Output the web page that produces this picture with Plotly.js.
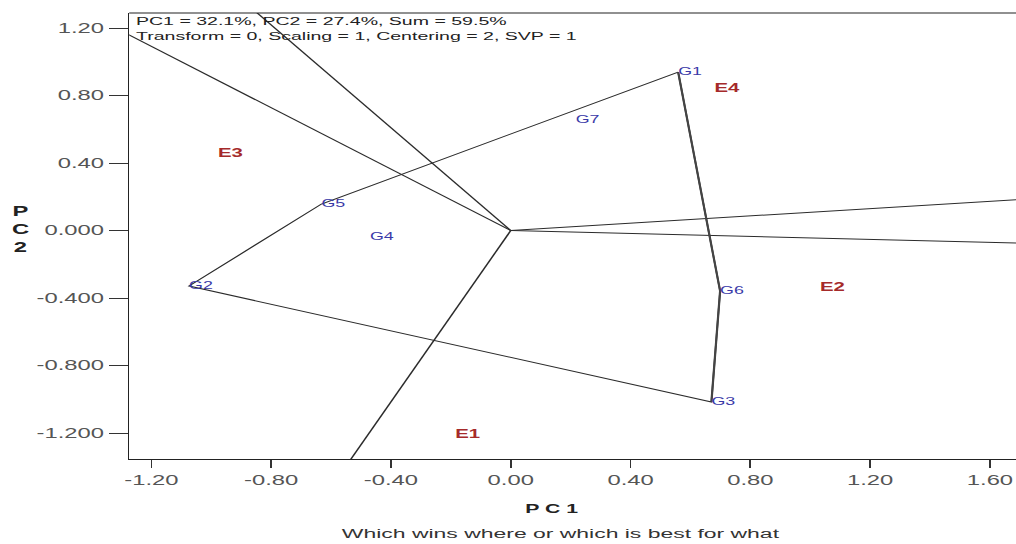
<!DOCTYPE html>
<html>
<head>
<meta charset="utf-8">
<script src="https://cdn.plot.ly/plotly-3.0.1.min.js"></script>
<style>
html,body{margin:0;padding:0;background:#fff;overflow:hidden;}
#wrap{width:1016px;height:544px;overflow:hidden;}
#chart{width:598px;height:544px;transform:scaleX(1.7);transform-origin:0 0;}
</style>
</head>
<body>
<div id="wrap"><div id="chart"></div></div>
<script>
// Genotype scores (PC1, PC2)
const genotypes = ['G1', 'G2', 'G3', 'G4', 'G5', 'G6', 'G7'];
const genoPC1 = [0.559, -1.074, 0.67, -0.47, -0.632, 0.699, 0.217];
const genoPC2 = [0.939, -0.329, -1.016, -0.04, 0.157, -0.358, 0.655];

// Environment scores (PC1, PC2)
const environments = ['E1', 'E2', 'E3', 'E4'];
const envPC1 = [-0.144, 1.074, -0.936, 0.722];
const envPC2 = [-1.213, -0.341, 0.453, 0.838];

// Polygon vertex order
const hullOrder = ['G1', 'G6', 'G3', 'G2', 'G5', 'G1'];

// Tick labels
const xTickVals = [-1.2, -0.8, -0.4, 0, 0.4, 0.8, 1.2, 1.6];
const xTickText = ['-1.20', '-0.80', '-0.40', '0.00', '0.40', '0.80', '1.20', '1.60'];
const yTickVals = [1.2, 0.8, 0.4, 0, -0.4, -0.8, -1.2];
const yTickText = ['1.20', '0.80', '0.40', '0.000', '-0.400', '-0.800', '-1.200'];

const headerLines = ['PC1 = 32.1%, PC2 = 27.4%, Sum = 59.5%', 'Transform = 0, Scaling = 1, Centering = 2, SVP = 1'];
const xTitle = 'P C 1';
const yTitle = 'P<br>C<br>2';
const subTitle = 'Which wins where or which is best for what';

const idx = g => genotypes.indexOf(g);
const hx = hullOrder.map(g => genoPC1[idx(g)]);
const hy = hullOrder.map(g => genoPC2[idx(g)]);

// Rays from origin perpendicular to each polygon side
const rayX = [], rayY = [];
for (let i = 0; i < hullOrder.length - 1; i++) {
  const x1 = hx[i], y1 = hy[i], x2 = hx[i + 1], y2 = hy[i + 1];
  const dx = x2 - x1, dy = y2 - y1;
  const t = -(x1 * dx + y1 * dy) / (dx * dx + dy * dy);
  const fx = x1 + t * dx, fy = y1 + t * dy;
  const len = Math.hypot(fx, fy);
  rayX.push(0, fx / len * 6, null);
  rayY.push(0, fy / len * 6, null);
}

const lineColor = '#2b2b2b';
const traces = [
  { x: rayX, y: rayY, mode: 'lines', line: { color: lineColor, width: 1 }, hoverinfo: 'skip', showlegend: false },
  { x: hx, y: hy, mode: 'lines', line: { color: lineColor, width: 1 }, hoverinfo: 'skip', showlegend: false },
  { x: [hx[0], hx[1], hx[2]], y: [hy[0], hy[1], hy[2]], mode: 'lines', line: { color: '#444', width: 1.3 }, hoverinfo: 'skip', showlegend: false },
  { x: genoPC1, y: genoPC2, mode: 'text', text: genotypes, textposition: 'middle right',
    textfont: { family: 'Liberation Sans, Arial, sans-serif', size: 10.5, color: '#3a3aa8' }, showlegend: false, cliponaxis: false },
  { x: envPC1, y: envPC2, mode: 'text', text: environments.map(e => '<b>' + e + '</b>'), textposition: 'middle center',
    textfont: { family: 'Liberation Sans, Arial, sans-serif', size: 12, color: '#a52a2a' }, showlegend: false }
];

const layout = {
  width: 598, height: 544,
  margin: { l: 76, r: 0, t: 13, b: 85 },
  paper_bgcolor: '#fff', plot_bgcolor: '#fff',
  font: { family: 'Liberation Sans, Arial, sans-serif', color: '#444' },
  xaxis: {
    range: [-1.274, 1.689], tickvals: xTickVals, ticktext: xTickText,
    showgrid: false, zeroline: false, showline: true, linecolor: '#222', linewidth: 1,
    ticks: 'outside', ticklen: 8, tickcolor: '#333', tickfont: { size: 14, color: '#555' }
  },
  yaxis: {
    range: [-1.354, 1.289], tickvals: yTickVals, ticktext: yTickText,
    showgrid: false, zeroline: false, showline: true, linecolor: '#222', linewidth: 1,
    ticks: 'outside', ticklen: 11, tickcolor: '#333', tickfont: { size: 14, color: '#555' }
  },
  shapes: [
    { type: 'line', xref: 'paper', yref: 'paper', x0: 0, x1: 1, y0: 1, y1: 1, line: { color: '#222', width: 1 } }
  ],
  annotations: [
    { xref: 'paper', yref: 'paper', x: 0.003, y: 0.999, xanchor: 'left', yanchor: 'top', align: 'left', showarrow: false,
      text: headerLines.join('<br>'), font: { size: 11.5, color: '#222' } },
    { xref: 'paper', yref: 'paper', x: 0.477, y: -0.112, xanchor: 'center', yanchor: 'middle', showarrow: false,
      text: '<b>' + xTitle + '</b>', font: { size: 12.5, color: '#222' } },
    { xref: 'paper', yref: 'paper', x: 0.487, y: -0.168, xanchor: 'center', yanchor: 'middle', showarrow: false,
      text: subTitle, font: { size: 13.5, color: '#333' } },
    { xref: 'paper', yref: 'paper', x: -0.123, y: 0.516, xanchor: 'center', yanchor: 'middle', showarrow: false,
      text: '<b>' + yTitle + '</b>', font: { size: 14, color: '#222' } }
  ]
};

Plotly.newPlot('chart', traces, layout, { displayModeBar: false, staticPlot: true });
</script>
</body>
</html>
